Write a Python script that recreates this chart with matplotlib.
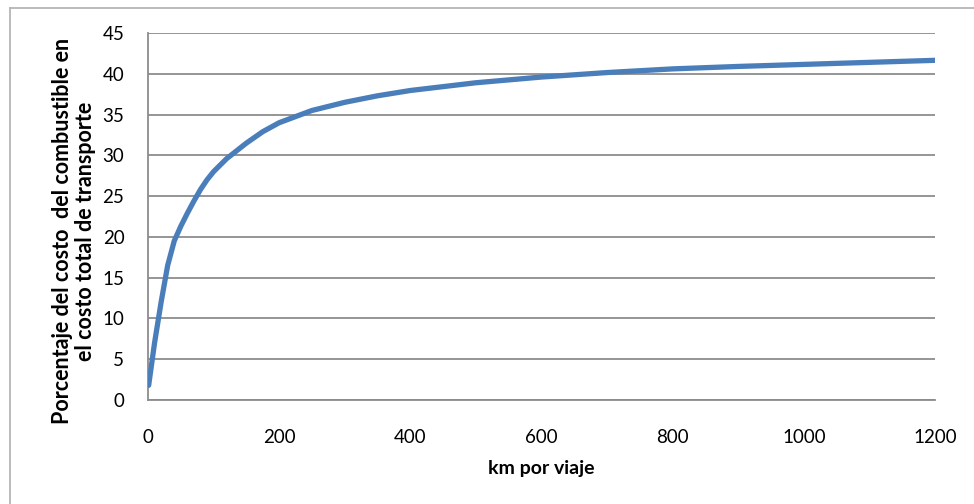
import matplotlib
matplotlib.use("Agg")
import matplotlib.pyplot as plt
from matplotlib.lines import Line2D

km = [1, 10, 20, 30, 40, 50, 60, 70, 80, 90, 100, 120, 150, 175, 200, 250, 300, 350, 400,
      500, 600, 700, 800, 900, 1000, 1100, 1200]
pct = [1.8, 7.0, 12.0, 16.5, 19.5, 21.3, 22.9, 24.4, 25.8, 27.0, 28.0, 29.6, 31.5, 32.9, 34.0,
       35.5, 36.5, 37.3, 37.95, 38.9, 39.6, 40.15, 40.6, 40.9, 41.15, 41.4, 41.65]

xticks = [0, 200, 400, 600, 800, 1000, 1200]
yticks = [0, 5, 10, 15, 20, 25, 30, 35, 40, 45]
xlabel = "km por viaje"
ylabel = "Porcentaje del costo  del combustible en\nel costo total de transporte"

plt.rcParams['font.family'] = ['Lato', 'DejaVu Sans']

fig = plt.figure(figsize=(9.74, 5.04), dpi=100)
ax = fig.add_axes([148/974, 1 - 400/504, (935-148)/974, (400-33)/504])

ax.plot(km, pct, color='#4A7EBB', lw=3.8, solid_capstyle='round', solid_joinstyle='round', zorder=3)

ax.set_xlim(0, 1200)
ax.set_ylim(0, 45)
ax.set_xticks(xticks)
ax.set_yticks(yticks)
ax.tick_params(axis='both', length=0, labelsize=13.5, colors='#000000')
ax.tick_params(axis='x', pad=21)
ax.tick_params(axis='y', pad=17)
ax.grid(axis='y', color='#8c8c8c', lw=1.3)
ax.set_axisbelow(True)
for s in ['top', 'right']:
    ax.spines[s].set_visible(False)
for s in ['left', 'bottom']:
    ax.spines[s].set_color('#8c8c8c')
    ax.spines[s].set_linewidth(1.3)

ax.set_xlabel(xlabel, fontsize=14, fontweight='bold', labelpad=10)
ax.set_ylabel(ylabel, fontsize=15.5, fontweight='bold', linespacing=1.15)
ax.yaxis.set_label_coords(-0.066, 0.46)

# outer frame (left and top edges visible)
fig.add_artist(Line2D([10/974, 10/974], [0, 1 - 8/504], transform=fig.transFigure, color='#b5b5b5', lw=1.3))
fig.add_artist(Line2D([10/974, 1], [1 - 8/504, 1 - 8/504], transform=fig.transFigure, color='#b5b5b5', lw=1.3))

fig.savefig("out.png", dpi=100)
